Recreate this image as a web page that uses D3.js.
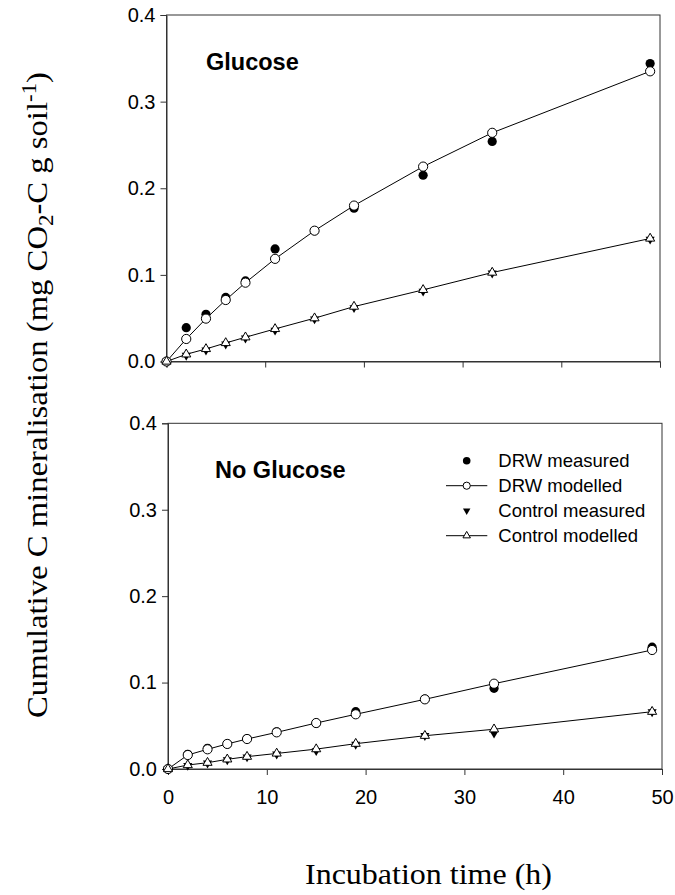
<!DOCTYPE html>
<html>
<head>
<meta charset="utf-8">
<script src="https://cdn.jsdelivr.net/npm/d3@7"></script>
<style>
  html, body { margin: 0; padding: 0; background: #fff; }
  svg { display: block; }
</style>
</head>
<body>
<svg id="chart" width="675" height="895"></svg>
<script>
// Sampling times (h)
const hours = [0, 2, 4, 6, 8, 11, 15, 19, 26, 33, 49];

// Glucose-amended soil
const glucoseDrwMeasured      = [0, 0.039, 0.0545, 0.074, 0.093, 0.130, 0.151, 0.177, 0.215, 0.254, 0.344];
const glucoseDrwModelled      = [0, 0.026, 0.0495, 0.071, 0.091, 0.1185, 0.151, 0.180, 0.225, 0.264, 0.335];
const glucoseControlMeasured  = [0, 0.007, 0.013, 0.020, 0.027, 0.036, 0.049, 0.062, 0.081, 0.102, 0.141];
const glucoseControlModelled  = [0, 0.0083, 0.0145, 0.0214, 0.028, 0.0376, 0.050, 0.0634, 0.0827, 0.1027, 0.142];

// Soil without glucose
const noGlucoseDrwMeasured     = [0, 0.017, 0.024, 0.029, 0.035, 0.043, 0.053, 0.0663, 0.081, 0.0934, 0.141];
const noGlucoseDrwModelled     = [0, 0.0162, 0.0228, 0.029, 0.0347, 0.0424, 0.0532, 0.0633, 0.0806, 0.0987, 0.1377];
const noGlucoseControlMeasured = [0, 0.004, 0.0068, 0.0105, 0.0138, 0.0172, 0.021, 0.0285, 0.0385, 0.0413, 0.066];
const noGlucoseControlModelled = [0, 0.0046, 0.0073, 0.0112, 0.0143, 0.018, 0.023, 0.0293, 0.0385, 0.046, 0.0663];

const xTicks = [0, 10, 20, 30, 40, 50];
const yTicks = [0, 0.1, 0.2, 0.3, 0.4];
const panelTitles = ["Glucose", "No Glucose"];
const legendLabels = ["DRW measured", "DRW modelled", "Control measured", "Control modelled"];

const svg = d3.select("#chart");
const sans = "'Liberation Sans', Arial, Helvetica, sans-serif";
const serif = "'Liberation Serif', 'Times New Roman', serif";

const panels = [
  { title: panelTitles[0], top: 15, bottom: 361.5, left: 166.5, right: 660, showXLabels: false,
    drwMeas: glucoseDrwMeasured, drwMod: glucoseDrwModelled,
    ctlMeas: glucoseControlMeasured, ctlMod: glucoseControlModelled, legend: false },
  { title: panelTitles[1], top: 423.3, bottom: 769, left: 168, right: 662, showXLabels: true,
    drwMeas: noGlucoseDrwMeasured, drwMod: noGlucoseDrwModelled,
    ctlMeas: noGlucoseControlMeasured, ctlMod: noGlucoseControlModelled, legend: true }
];

const circleR = 4.6;
const triSize = 36;   // symbol area (px^2)

function triPath(size) {
  return d3.symbol().type(d3.symbolTriangle).size(size)();
}

panels.forEach(p => {
  const x = d3.scaleLinear().domain([0, 50]).range([p.left, p.right]);
  const y = d3.scaleLinear().domain([0, 0.4]).range([p.bottom, p.top]);
  const g = svg.append("g");

  // frame
  g.append("rect")
    .attr("x", p.left).attr("y", p.top)
    .attr("width", p.right - p.left).attr("height", p.bottom - p.top)
    .attr("fill", "none").attr("stroke", "#333").attr("stroke-width", 1);

  // axes
  const yAxis = d3.axisLeft(y).tickValues(yTicks).tickFormat(d3.format(".1f"))
    .tickSize(6).tickPadding(5);
  const ya = g.append("g").attr("transform", `translate(${p.left},0)`).call(yAxis);

  const xAxis = d3.axisBottom(x).tickValues(xTicks).tickSize(6).tickPadding(15);
  if (!p.showXLabels) xAxis.tickFormat("");
  const xa = g.append("g").attr("transform", `translate(0,${p.bottom})`).call(xAxis);

  [ya, xa].forEach(a => {
    a.select(".domain").attr("stroke", "#333");
    a.selectAll(".tick line").attr("stroke", "#333");
    a.selectAll(".tick text").attr("font-family", sans).attr("font-size", 20).attr("fill", "#000");
  });

  // panel title
  g.append("text")
    .attr("x", p.left + (p.title === "Glucose" ? 39.5 : 47))
    .attr("y", p.top + 55)
    .attr("font-family", sans).attr("font-weight", "bold").attr("font-size", 23.5)
    .text(p.title);

  const line = d3.line().x((d, i) => x(hours[i])).y(d => y(d));

  // modelled curves
  g.append("path").datum(p.drwMod).attr("d", line)
    .attr("fill", "none").attr("stroke", "#000").attr("stroke-width", 1);
  g.append("path").datum(p.ctlMod).attr("d", line)
    .attr("fill", "none").attr("stroke", "#000").attr("stroke-width", 1);

  // measured points
  g.selectAll(".drw-meas").data(p.drwMeas).join("circle")
    .attr("cx", (d, i) => x(hours[i])).attr("cy", d => y(d)).attr("r", circleR)
    .attr("fill", "#000");
  g.selectAll(".ctl-meas").data(p.ctlMeas).join("path")
    .attr("d", triPath(triSize))
    .attr("transform", (d, i) => `translate(${x(hours[i])},${y(d)}) rotate(180)`)
    .attr("fill", "#000");

  // modelled points
  g.selectAll(".drw-mod").data(p.drwMod).join("circle")
    .attr("cx", (d, i) => x(hours[i])).attr("cy", d => y(d)).attr("r", circleR)
    .attr("fill", "#fff").attr("stroke", "#000").attr("stroke-width", 1);
  g.selectAll(".ctl-mod").data(p.ctlMod).join("path")
    .attr("d", triPath(triSize))
    .attr("transform", (d, i) => `translate(${x(hours[i])},${y(d)})`)
    .attr("fill", "#fff").attr("stroke", "#000").attr("stroke-width", 1);

  // legend
  if (p.legend) {
    const lx = 466.7, tx = 498.3, ly0 = 466.7, dy = 25;
    const lg = g.append("g");
    legendLabels.forEach((lab, i) => {
      const by = ly0 + i * dy;
      const cy = by - 6;
      if (i === 1 || i === 3) {
        lg.append("line").attr("x1", 446).attr("x2", 487.3).attr("y1", cy).attr("y2", cy)
          .attr("stroke", "#000").attr("stroke-width", 1);
      }
      if (i === 0) lg.append("circle").attr("cx", lx).attr("cy", cy).attr("r", 3.8).attr("fill", "#000");
      if (i === 1) lg.append("circle").attr("cx", lx).attr("cy", cy).attr("r", 3.6)
        .attr("fill", "#fff").attr("stroke", "#000");
      if (i === 2) lg.append("path").attr("d", triPath(24))
        .attr("transform", `translate(${lx},${cy}) rotate(180)`).attr("fill", "#000");
      if (i === 3) lg.append("path").attr("d", triPath(24))
        .attr("transform", `translate(${lx},${cy})`).attr("fill", "#fff").attr("stroke", "#000");
      lg.append("text").attr("x", tx).attr("y", by)
        .attr("font-family", sans).attr("font-size", 18.5).text(lab);
    });
  }
});

// axis titles
const yt = svg.append("text")
  .attr("transform", "translate(47,395) rotate(-90)")
  .attr("text-anchor", "middle")
  .attr("font-family", serif).attr("font-size", 30)
  .attr("textLength", 646).attr("lengthAdjust", "spacingAndGlyphs");
yt.append("tspan").text("Cumulative C mineralisation (mg CO");
yt.append("tspan").attr("font-size", 21).attr("dy", 6).text("2");
yt.append("tspan").attr("dy", -6).text("-C g soil");
yt.append("tspan").attr("font-size", 21).attr("dy", -11).text("-1");
yt.append("tspan").attr("dy", 11).text(")");

svg.append("text")
  .attr("x", 428.5).attr("y", 884)
  .attr("text-anchor", "middle")
  .attr("font-family", serif).attr("font-size", 30)
  .attr("textLength", 247).attr("lengthAdjust", "spacingAndGlyphs")
  .text("Incubation time (h)");
</script>
</body>
</html>
